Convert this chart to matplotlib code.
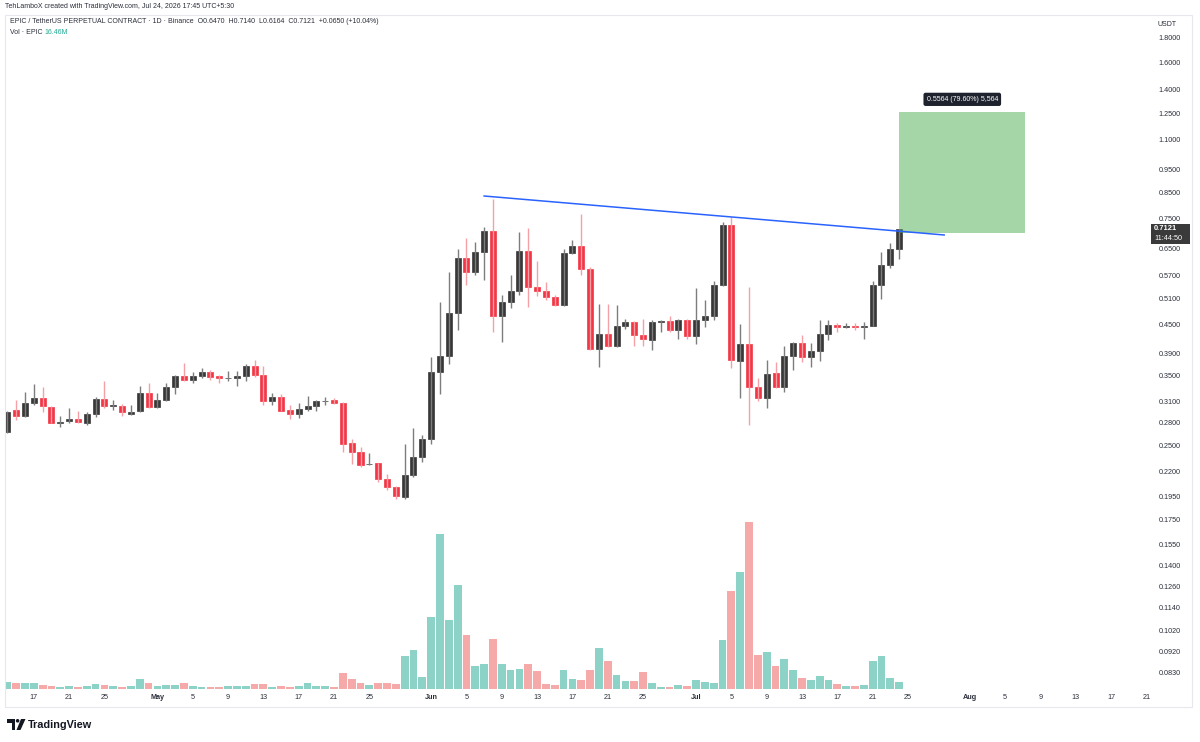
import numpy as np
import pandas as pd
import matplotlib
matplotlib.use("Agg")
from matplotlib import pyplot as plt
from matplotlib.patches import Rectangle, Polygon, Circle

plt.rcParams['font.family'] = ['Liberation Sans', 'DejaVu Sans']

# ----------------------------------------------------------------------------
# Data (EPIC/USDT perp, daily)
# ----------------------------------------------------------------------------
dates = pd.date_range("2026-04-14", "2026-07-24", freq="D")

opens = [0.267, 0.2966, 0.288, 0.307, 0.314, 0.301, 0.2785, 0.281, 0.284, 0.279,
         0.2905, 0.3125, 0.302, 0.303, 0.291, 0.295, 0.323, 0.301, 0.3116, 0.332,
         0.3495, 0.3435, 0.3495, 0.356, 0.3495, 0.346, 0.3465, 0.3495, 0.367, 0.351,
         0.3105, 0.316, 0.2968, 0.2905, 0.2985, 0.3025, 0.3095, 0.311, 0.307, 0.2525,
         0.2426, 0.2285, 0.2295, 0.212, 0.2045, 0.1948, 0.2165, 0.2365, 0.2575, 0.357,
         0.386, 0.474, 0.619, 0.578, 0.638, 0.706, 0.468, 0.502, 0.529, 0.640,
         0.539, 0.529, 0.513, 0.4935, 0.635, 0.656, 0.588, 0.398, 0.429, 0.404,
         0.445, 0.455, 0.427, 0.417, 0.455, 0.456, 0.4375, 0.459, 0.424, 0.460,
         0.468, 0.544, 0.727, 0.3765, 0.408, 0.332, 0.314, 0.355, 0.332, 0.386,
         0.411, 0.384, 0.395, 0.4295, 0.447, 0.4445, 0.446, 0.4445, 0.4465, 0.544,
         0.600, 0.6470]
highs = [0.296, 0.312, 0.324, 0.336, 0.332, 0.302, 0.288, 0.299, 0.295, 0.2935,
         0.316, 0.342, 0.3116, 0.305, 0.304, 0.334, 0.339, 0.323, 0.339, 0.351,
         0.373, 0.357, 0.363, 0.360, 0.351, 0.359, 0.359, 0.370, 0.378, 0.3665,
         0.323, 0.321, 0.3035, 0.3075, 0.3175, 0.311, 0.316, 0.314, 0.309, 0.2575,
         0.248, 0.2405, 0.230, 0.218, 0.2055, 0.2515, 0.2716, 0.2625, 0.383, 0.501,
         0.578, 0.646, 0.684, 0.671, 0.721, 0.823, 0.519, 0.571, 0.704, 0.718,
         0.611, 0.551, 0.519, 0.648, 0.676, 0.767, 0.594, 0.495, 0.495, 0.4935,
         0.462, 0.457, 0.462, 0.460, 0.460, 0.468, 0.461, 0.461, 0.535, 0.506,
         0.555, 0.739, 0.755, 0.4505, 0.539, 0.346, 0.378, 0.375, 0.404, 0.413,
         0.426, 0.410, 0.460, 0.459, 0.452, 0.452, 0.452, 0.455, 0.555, 0.637,
         0.667, 0.7140]
lows = [0.265, 0.283, 0.287, 0.304, 0.294, 0.278, 0.273, 0.279, 0.279, 0.276,
        0.287, 0.2995, 0.297, 0.288, 0.289, 0.294, 0.300, 0.300, 0.310, 0.321,
        0.342, 0.338, 0.347, 0.344, 0.338, 0.342, 0.333, 0.341, 0.349, 0.3035,
        0.304, 0.295, 0.284, 0.2855, 0.2953, 0.296, 0.3045, 0.306, 0.2426, 0.2285,
        0.2255, 0.2275, 0.2098, 0.2018, 0.193, 0.193, 0.2148, 0.2308, 0.2516, 0.321,
        0.370, 0.4375, 0.544, 0.572, 0.557, 0.434, 0.413, 0.487, 0.519, 0.490,
        0.515, 0.505, 0.491, 0.491, 0.632, 0.572, 0.396, 0.365, 0.402, 0.402,
        0.4395, 0.405, 0.405, 0.397, 0.434, 0.434, 0.418, 0.418, 0.409, 0.444,
        0.459, 0.540, 0.364, 0.314, 0.2765, 0.3095, 0.2995, 0.330, 0.324, 0.361,
        0.375, 0.366, 0.376, 0.4168, 0.434, 0.441, 0.438, 0.419, 0.445, 0.507,
        0.591, 0.6164]
closes = [0.294, 0.288, 0.307, 0.314, 0.302, 0.279, 0.2805, 0.2835, 0.2805, 0.2905,
          0.3125, 0.302, 0.304, 0.2935, 0.2944, 0.323, 0.301, 0.3116, 0.331, 0.3495,
          0.343, 0.3495, 0.356, 0.349, 0.3465, 0.347, 0.3495, 0.367, 0.351, 0.3105,
          0.316, 0.296, 0.2905, 0.2987, 0.3025, 0.310, 0.310, 0.3075, 0.252, 0.2426,
          0.2275, 0.2290, 0.212, 0.2048, 0.1955, 0.2165, 0.2365, 0.2575, 0.357, 0.385,
          0.474, 0.619, 0.578, 0.638, 0.706, 0.468, 0.502, 0.529, 0.640, 0.539,
          0.528, 0.512, 0.4935, 0.635, 0.656, 0.588, 0.398, 0.429, 0.404, 0.445,
          0.455, 0.426, 0.419, 0.455, 0.456, 0.4375, 0.459, 0.424, 0.460, 0.468,
          0.544, 0.727, 0.378, 0.408, 0.332, 0.314, 0.354, 0.332, 0.386, 0.411,
          0.384, 0.395, 0.4295, 0.447, 0.444, 0.4455, 0.444, 0.446, 0.544, 0.600,
          0.646, 0.7121]
volume_m = [17.2, 14.8, 13.4, 14.1, 10.1, 7.8, 4.7, 6.3, 5.4, 6.3,
            11.8, 9.4, 6.3, 5.4, 6.3, 22.8, 13.4, 6.3, 10.1, 10.1,
            14.8, 6.3, 4.7, 5.4, 5.4, 7.8, 6.3, 6.3, 11.0, 11.0,
            5.4, 6.3, 5.4, 7.8, 14.8, 6.3, 7.8, 5.4, 38.3, 22.8,
            13.4, 10.1, 13.4, 13.4, 11.0, 76.8, 92.4, 27.5, 169.2, 364.3,
            161.4, 245.1, 126.2, 53.3, 58.8, 116.8, 58.8, 43.9, 47.7, 58.0,
            41.6, 11.8, 9.4, 44.7, 23.5, 21.9, 44.7, 95.6, 65.8, 32.2,
            18.8, 18.8, 40.7, 14.1, 5.4, 5.4, 8.7, 7.1, 21.2, 15.7,
            14.1, 115.9, 230.3, 275.0, 393.2, 80.6, 87.0, 54.1, 69.8, 43.9,
            25.9, 21.2, 31.3, 21.9, 12.5, 7.1, 7.1, 8.7, 65.8, 76.8,
            25.9, 16.46]

price_ticks = [1.8, 1.6, 1.4, 1.25, 1.1, 0.95, 0.85, 0.75, 0.65, 0.57, 0.51,
               0.45, 0.39, 0.35, 0.31, 0.28, 0.25, 0.22, 0.195, 0.175, 0.155,
               0.14, 0.126, 0.114, 0.102, 0.092, 0.083]
date_ticks = ["2026-04-17", "2026-04-21", "2026-04-25", "2026-05-01", "2026-05-05",
              "2026-05-09", "2026-05-13", "2026-05-17", "2026-05-21", "2026-05-25",
              "2026-06-01", "2026-06-05", "2026-06-09", "2026-06-13", "2026-06-17",
              "2026-06-21", "2026-06-25", "2026-07-01", "2026-07-05", "2026-07-09",
              "2026-07-13", "2026-07-17", "2026-07-21", "2026-07-25", "2026-08-01",
              "2026-08-05", "2026-08-09", "2026-08-13", "2026-08-17", "2026-08-21"]

# drawings: trendline (day offset, price) and measured target box
trend_day = [54.0, 106.1]
trend_price = [0.837, 0.693]
target_day = [101.0, 115.3]
target_price = [0.699, 1.2554]
target_label = "0.5564 (79.60%) 5,564"

# ----------------------------------------------------------------------------
# Colours
# ----------------------------------------------------------------------------
UP, DOWN = "#383838", "#f23645"
UP_WICK, DOWN_WICK = "#7d7d7d", "#f4a0a6"
VOL_UP, VOL_DOWN = "#8dd2c7", "#f6a9a9"
TEXT = "#2a2e39"
FS = 5.0

# ----------------------------------------------------------------------------
# Figure
# ----------------------------------------------------------------------------
W, H = 1200, 742
fig = plt.figure(figsize=(W / 100, H / 100), dpi=100)
fig.patch.set_facecolor("white")

ax_l, ax_r, ax_t, ax_b = 5, 1150, 15, 689
ax = fig.add_axes([ax_l / W, 1 - ax_b / H, (ax_r - ax_l) / W, (ax_b - ax_t) / H])
ax_vol = ax.twinx()

x = (dates - dates[0]).days.to_numpy()
o, hi, lo, c = (np.array(v) for v in (opens, highs, lows, closes))
up = c >= o

# volume (behind candles)
ax_vol.bar(x, volume_m, width=0.88, color=np.where(up, VOL_UP, VOL_DOWN), linewidth=0)
ax_vol.set_ylim(0, max(volume_m) * 4.03)
ax_vol.set_yticks([])
for s in ax_vol.spines.values():
    s.set_visible(False)

ax.set_zorder(ax_vol.get_zorder() + 1)
ax.patch.set_visible(False)

# candles
ax.vlines(x, lo, hi, colors=np.where(up, UP_WICK, DOWN_WICK), lw=1)
body_col = np.where(up, UP, DOWN)
ax.bar(x, np.abs(c - o), bottom=np.minimum(o, c), width=0.68,
       color=body_col, edgecolor=body_col, linewidth=0.5)

# trendline and target box
ax.plot(trend_day, trend_price, color="#2962ff", lw=1.1)
ax.add_patch(Rectangle((target_day[0], target_price[0]),
                       target_day[1] - target_day[0],
                       target_price[1] - target_price[0],
                       facecolor="#4caf50", alpha=0.5, linewidth=0))
ax.annotate(target_label, xy=(sum(target_day) / 2, target_price[1]),
            xytext=(0, 13), textcoords="offset pixels", ha="center", va="center",
            fontsize=FS, color="white",
            bbox=dict(boxstyle="round,pad=0.45,rounding_size=0.3", fc="#1e222d", ec="none"))

ax.set_yscale("log")
ax.set_ylim(0.0768, 2.012)
ax.set_xlim(-0.26, 129.41)

ax.yaxis.tick_right()
ax.set_yticks(price_ticks)
ax.set_yticklabels([f"{p:.4f}" for p in price_ticks])
ax.yaxis.set_minor_locator(matplotlib.ticker.NullLocator())
ax.tick_params(axis="y", length=0, pad=6, labelsize=5.2, labelcolor=TEXT)

tick_dates = pd.to_datetime(date_ticks)
ax.set_xticks((tick_dates - dates[0]).days.to_numpy())
ax.set_xticklabels([d.strftime("%b") if d.day == 1 else str(d.day) for d in tick_dates])
for lab, d in zip(ax.get_xticklabels(), tick_dates):
    if d.day == 1:
        lab.set_fontweight("bold")
ax.tick_params(axis="x", length=0, pad=3.5, labelsize=5.2, labelcolor=TEXT)
for s in ax.spines.values():
    s.set_visible(False)

# ----------------------------------------------------------------------------
# Overlay in pixel coordinates: frame, header texts, price badge, logo
# ----------------------------------------------------------------------------
ov = fig.add_axes([0, 0, 1, 1], zorder=10)
ov.set_xlim(0, W)
ov.set_ylim(H, 0)
ov.axis("off")

ov.add_patch(Rectangle((5, 15), 1187, 692, fill=False, ec="#e6e8ee", lw=0.8))

ov.text(5, 7, "TehLamboX created with TradingView.com, Jul 24, 2026 17:45 UTC+5:30",
        fontsize=FS, color=TEXT, va="center")
ov.text(10, 21.5, "EPIC / TetherUS PERPETUAL CONTRACT · 1D · Binance  O0.6470  H0.7140  "
        "L0.6164  C0.7121  +0.0650 (+10.04%)", fontsize=FS, color=TEXT, va="center")
ov.text(10, 33, "Vol · EPIC", fontsize=FS, color=TEXT, va="center")
ov.text(44, 33, "16.46M", fontsize=FS, color="#22ab94", va="center")
ov.text(1158, 25, "USDT", fontsize=FS, color=TEXT, va="center")

ov.add_patch(Rectangle((1151, 223.5), 39, 20, fc="#3a3a3a", ec="none"))
ov.text(1154, 229, "0.7121", fontsize=5.4, color="white", fontweight="bold", va="center")
ov.text(1154, 238.5, "11:44:50", fontsize=5.2, color="white", va="center")

# TradingView logo
ov.add_patch(Polygon([(7, 719), (15, 719), (15, 730), (11.5, 730), (11.5, 722.5), (7, 722.5)],
                     closed=True, fc="#131722", ec="none"))
ov.add_patch(Circle((17.6, 720.8), 1.8, fc="#131722", ec="none"))
ov.add_patch(Polygon([(21, 719), (25.5, 719), (20.5, 730), (16.5, 730)],
                     closed=True, fc="#131722", ec="none"))
ov.text(28, 724.5, "TradingView", fontsize=7.8, color="#131722", fontweight="bold", va="center")

fig.savefig("out.png", dpi=100, facecolor="white")
